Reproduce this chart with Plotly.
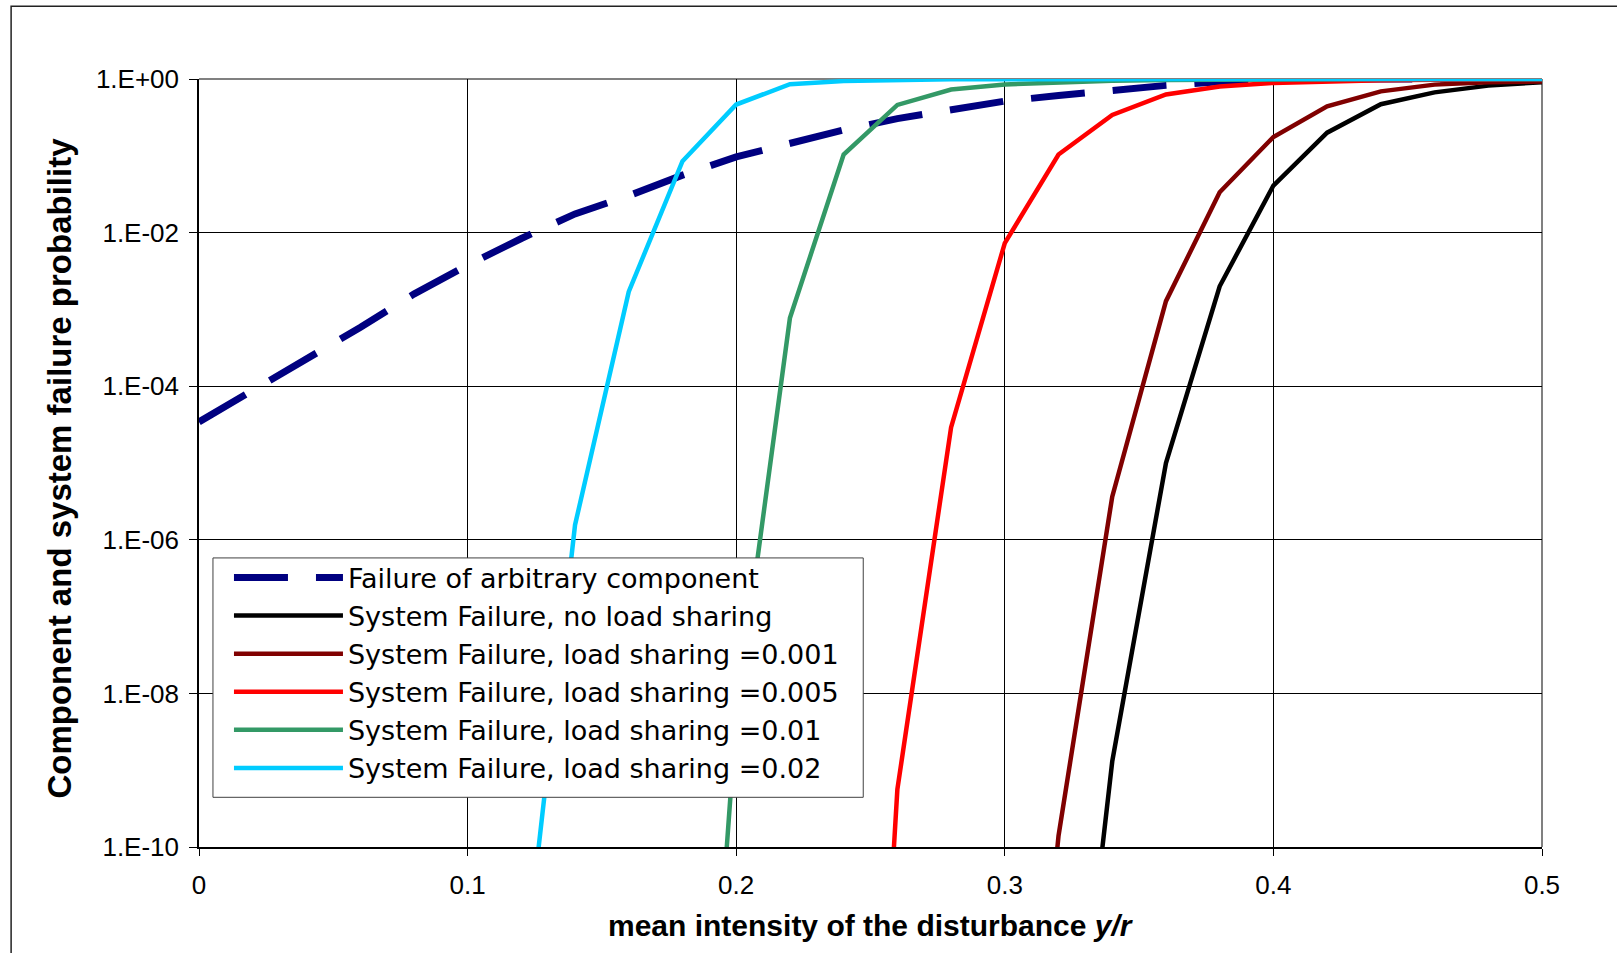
import plotly.graph_objects as go

# mean intensity of the disturbance y/r
intensity = [0.00, 0.02, 0.04, 0.06, 0.08, 0.10, 0.12, 0.14, 0.16, 0.18,
             0.20, 0.22, 0.24, 0.26, 0.28, 0.30, 0.32, 0.34, 0.36, 0.38,
             0.40, 0.42, 0.44, 0.46, 0.48, 0.50]

component_failure = [3.43e-5, 8.83e-5, 2.18e-4, 5.82e-4, 1.58e-3, 3.78e-3, 8.38e-3, 1.75e-2, 3.02e-2, 0.056,
                     0.097, 0.146, 0.217, 0.305, 0.394, 0.515, 0.61, 0.716, 0.826, 0.92,
                     0.97, 0.995, 1.0, 1.0, 1.0, 1.0]

system_no_sharing = [None] * 16 + [1e-15, 1.3e-9, 1.0e-5, 2.0e-3, 0.041, 0.20, 0.47, 0.67, 0.82, 0.91]

system_sharing_0001 = [None] * 15 + [1e-17, 1.4e-10, 3.65e-6, 1.28e-3, 0.0335, 0.176, 0.44, 0.69, 0.845, 0.91, 0.93]

system_sharing_0005 = [None] * 12 + [1e-21, 5.6e-10, 2.9e-5, 7.3e-3, 0.104, 0.34, 0.63, 0.80,
                                     0.89, 0.93, 0.96, 0.98, 0.99, 1.0]

system_sharing_001 = [None] * 9 + [1e-18, 5e-9, 7.7e-4, 0.104, 0.46, 0.73, 0.85, 0.91, 0.95, 0.97,
                                   0.985, 0.99, 0.995, 1.0, 1.0, 1.0, 1.0]

system_sharing_002 = [None] * 6 + [1e-12, 1.56e-6, 1.7e-3, 0.085, 0.465, 0.855, 0.94, 0.975, 0.99, 0.995,
                                   1.0, 1.0, 1.0, 1.0, 1.0, 1.0, 1.0, 1.0, 1.0, 1.0]

series_names = [
    "Failure of arbitrary component",
    "System Failure, no load sharing",
    "System Failure, load sharing =0.001",
    "System Failure, load sharing =0.005",
    "System Failure, load sharing =0.01",
    "System Failure, load sharing =0.02",
]

y_tick_values = [1e-10, 1e-8, 1e-6, 1e-4, 1e-2, 1.0]
y_tick_labels = ["1.E-10", "1.E-08", "1.E-06", "1.E-04", "1.E-02", "1.E+00"]
x_tick_values = [0, 0.1, 0.2, 0.3, 0.4, 0.5]
x_tick_labels = ["0", "0.1", "0.2", "0.3", "0.4", "0.5"]

FONT = "Liberation Sans, Arial, sans-serif"
LEGEND_FONT = "DejaVu Sans, Liberation Sans, sans-serif"

fig = go.Figure()

fig.add_trace(go.Scatter(
    x=intensity, y=component_failure, name=series_names[0], mode="lines",
    line=dict(color="#000080", width=7, dash="54px,28px"),
))

solid_series = [
    (system_no_sharing, "#000000"),
    (system_sharing_0001, "#800000"),
    (system_sharing_0005, "#FF0000"),
    (system_sharing_001, "#339966"),
    (system_sharing_002, "#00CCFF"),
]
for (values, color), name in zip(solid_series, series_names[1:]):
    fig.add_trace(go.Scatter(
        x=intensity, y=values, name=name, mode="lines",
        line=dict(color=color, width=4.5),
    ))

# plot-area frame on the top and right edges, and the outer chart border
fig.add_shape(type="line", xref="paper", yref="paper", x0=0, x1=1, y0=1, y1=1,
              line=dict(color="#808080", width=2), layer="between")
fig.add_shape(type="line", xref="paper", yref="paper", x0=1, x1=1, y0=0, y1=1,
              line=dict(color="#808080", width=2), layer="between")
fig.add_shape(type="rect", xref="paper", yref="paper", x0=-0.1399, x1=1.2, y0=-0.3, y1=1.0947,
              line=dict(color="#222222", width=1.5), layer="below")
# opaque legend panel behind the legend entries
fig.add_shape(type="rect", xref="paper", yref="paper", x0=0.0104, x1=0.4946, y0=0.0647, y1=0.3764,
              fillcolor="#FFFFFF", line=dict(color="#404040", width=1), layer="above")

fig.add_annotation(
    text="mean intensity of the disturbance <i>y/r</i>",
    xref="paper", yref="paper", x=0.5, y=-0.1023, xanchor="center", yanchor="middle",
    showarrow=False, font=dict(family=FONT, size=30, color="#000000", weight="bold"),
)
fig.add_annotation(
    text="Component and system failure probability",
    xref="paper", yref="paper", x=-0.1035, y=0.494, xanchor="center", yanchor="middle",
    textangle=-90, showarrow=False,
    font=dict(family=FONT, size=33, color="#000000", weight="bold"),
)

fig.update_xaxes(
    range=[0, 0.5], tickvals=x_tick_values, ticktext=x_tick_labels,
    showgrid=True, gridcolor="#000000", gridwidth=1,
    showline=True, linecolor="#000000", linewidth=2,
    ticks="outside", ticklen=7, tickcolor="#000000", tickwidth=1,
    ticklabelstandoff=7,
    tickfont=dict(family=FONT, size=26, color="#000000"),
    zeroline=False, automargin=False,
)
fig.update_yaxes(
    type="log", range=[-10, 0], tickvals=y_tick_values, ticktext=y_tick_labels,
    showgrid=True, gridcolor="#000000", gridwidth=1,
    showline=True, linecolor="#000000", linewidth=1.5,
    ticks="outside", ticklen=8, tickcolor="#000000", tickwidth=1,
    ticklabelstandoff=5,
    tickfont=dict(family=FONT, size=26, color="#000000"),
    zeroline=False, automargin=False,
)

fig.update_layout(
    width=1617, height=953,
    margin=dict(l=199, r=75, t=79, b=106),
    paper_bgcolor="#FFFFFF", plot_bgcolor="#FFFFFF",
    font=dict(family=FONT, color="#000000"),
    showlegend=True,
    legend=dict(
        x=0.0104, y=0.3823, xanchor="left", yanchor="top",
        bgcolor="rgba(0,0,0,0)", borderwidth=0,
        font=dict(family=LEGEND_FONT, size=27, color="#000000"),
        itemwidth=109, indentation=16, tracegroupgap=0,
    ),
)

fig.write_html("out.html")
